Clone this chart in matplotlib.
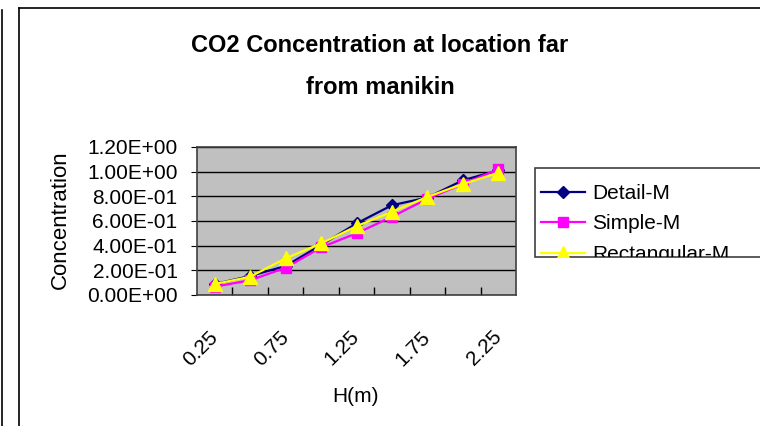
import matplotlib.pyplot as plt
from matplotlib.lines import Line2D
from matplotlib.patches import Rectangle
from matplotlib.ticker import FormatStrFormatter

plt.rcParams['font.family'] = ['Liberation Sans', 'DejaVu Sans']

# data
heights = ["0.25", "0.5", "0.75", "1", "1.25", "1.5", "1.75", "2", "2.25"]
detail_m = [0.089, 0.154, 0.235, 0.405, 0.58, 0.728, 0.79, 0.93, 1.01]
simple_m = [0.067, 0.12, 0.22, 0.386, 0.50, 0.634, 0.78, 0.90, 1.02]
rect_m = [0.089, 0.148, 0.297, 0.418, 0.558, 0.674, 0.796, 0.90, 0.99]
y_ticks = [0.0, 0.2, 0.4, 0.6, 0.8, 1.0, 1.2]

W, H = 760, 426
fig = plt.figure(figsize=(W / 100, H / 100), dpi=100)
fig.patch.set_facecolor("white")

def fx(px):
    return px / W

def fy(py):
    return 1 - py / H

# chart frame (extends past the right and bottom edges)
fig.add_artist(Line2D([fx(18.5), fx(18.5)], [fy(8), 0], color="black", lw=1.2, transform=fig.transFigure))
fig.add_artist(Line2D([fx(18.5), 1], [fy(8), fy(8)], color="black", lw=1.2, transform=fig.transFigure))
fig.add_artist(Line2D([fx(1.5), fx(1.5)], [fy(10), 0], color="black", lw=1.2, transform=fig.transFigure))

ax = fig.add_axes([fx(197), fy(295), fx(516) - fx(197), fy(147) - fy(295)])
ax.set_facecolor("#C0C0C0")

x = list(range(len(heights)))
ax.plot(x, detail_m, color="#000080", marker="D", markersize=6.5, lw=1.6, label="Detail-M")
ax.plot(x, simple_m, color="#FF00FF", marker="s", markersize=7, lw=1.6, label="Simple-M")
ax.plot(x, rect_m, color="#FFFF00", marker="^", markersize=10, lw=1.6, label="Rectangular-M")

ax.set_xlim(-0.5, len(heights) - 0.5)
ax.set_ylim(0, 1.2)
ax.set_yticks(y_ticks)
ax.yaxis.set_major_formatter(FormatStrFormatter("%.2E"))
ax.yaxis.grid(True, color="black", lw=1)
ax.set_axisbelow(True)

ax.set_xticks(x[::2])
ax.set_xticklabels(heights[::2], rotation=45, ha="right", va="center", rotation_mode="anchor")
ax.set_xticks([i + 0.5 for i in range(len(heights) - 1)], minor=True)
ax.tick_params(axis="x", which="major", length=0, pad=28, labelsize=15)
ax.tick_params(axis="x", which="minor", direction="in", length=6, width=1, color="black")
ax.tick_params(axis="y", length=4, pad=10, labelsize=15)
for s in ax.spines.values():
    s.set_color("#404040")
    s.set_linewidth(1.2)

fig.text(fx(60), fy(220), "Concentration", rotation=90, ha="center", va="center", fontsize=16)
fig.text(fx(355), fy(397), "H(m)", ha="center", va="center", fontsize=15)

fig.text(0.5, fy(46), "CO2 Concentration at location far", ha="center", va="center",
         fontsize=17, fontweight="bold")
fig.text(0.5, fy(88), "from manikin", ha="center", va="center", fontsize=17, fontweight="bold")

# legend box, partly cut off by the right edge like the reference
box = Rectangle((fx(535), fy(257)), 1, fy(168) - fy(257), transform=fig.transFigure,
                facecolor="white", edgecolor="#404040", lw=1.2, zorder=-1)
fig.add_artist(box)
leg = fig.legend(*ax.get_legend_handles_labels(), loc="upper left",
                 bbox_to_anchor=(fx(541), fy(184)), bbox_transform=fig.transFigure,
                 frameon=False, fontsize=15, handlelength=2.1, handletextpad=0.35,
                 labelspacing=0.55, borderaxespad=0, borderpad=0)
# the last entry runs past the box bottom; hide what falls outside
clip = Rectangle((fx(535), fy(257)), 1, fy(168) - fy(257), transform=fig.transFigure)
for t in leg.get_texts():
    t.set_clip_path(clip)
for h in leg.legend_handles:
    h.set_clip_path(clip)

fig.savefig("out.png", dpi=100)
